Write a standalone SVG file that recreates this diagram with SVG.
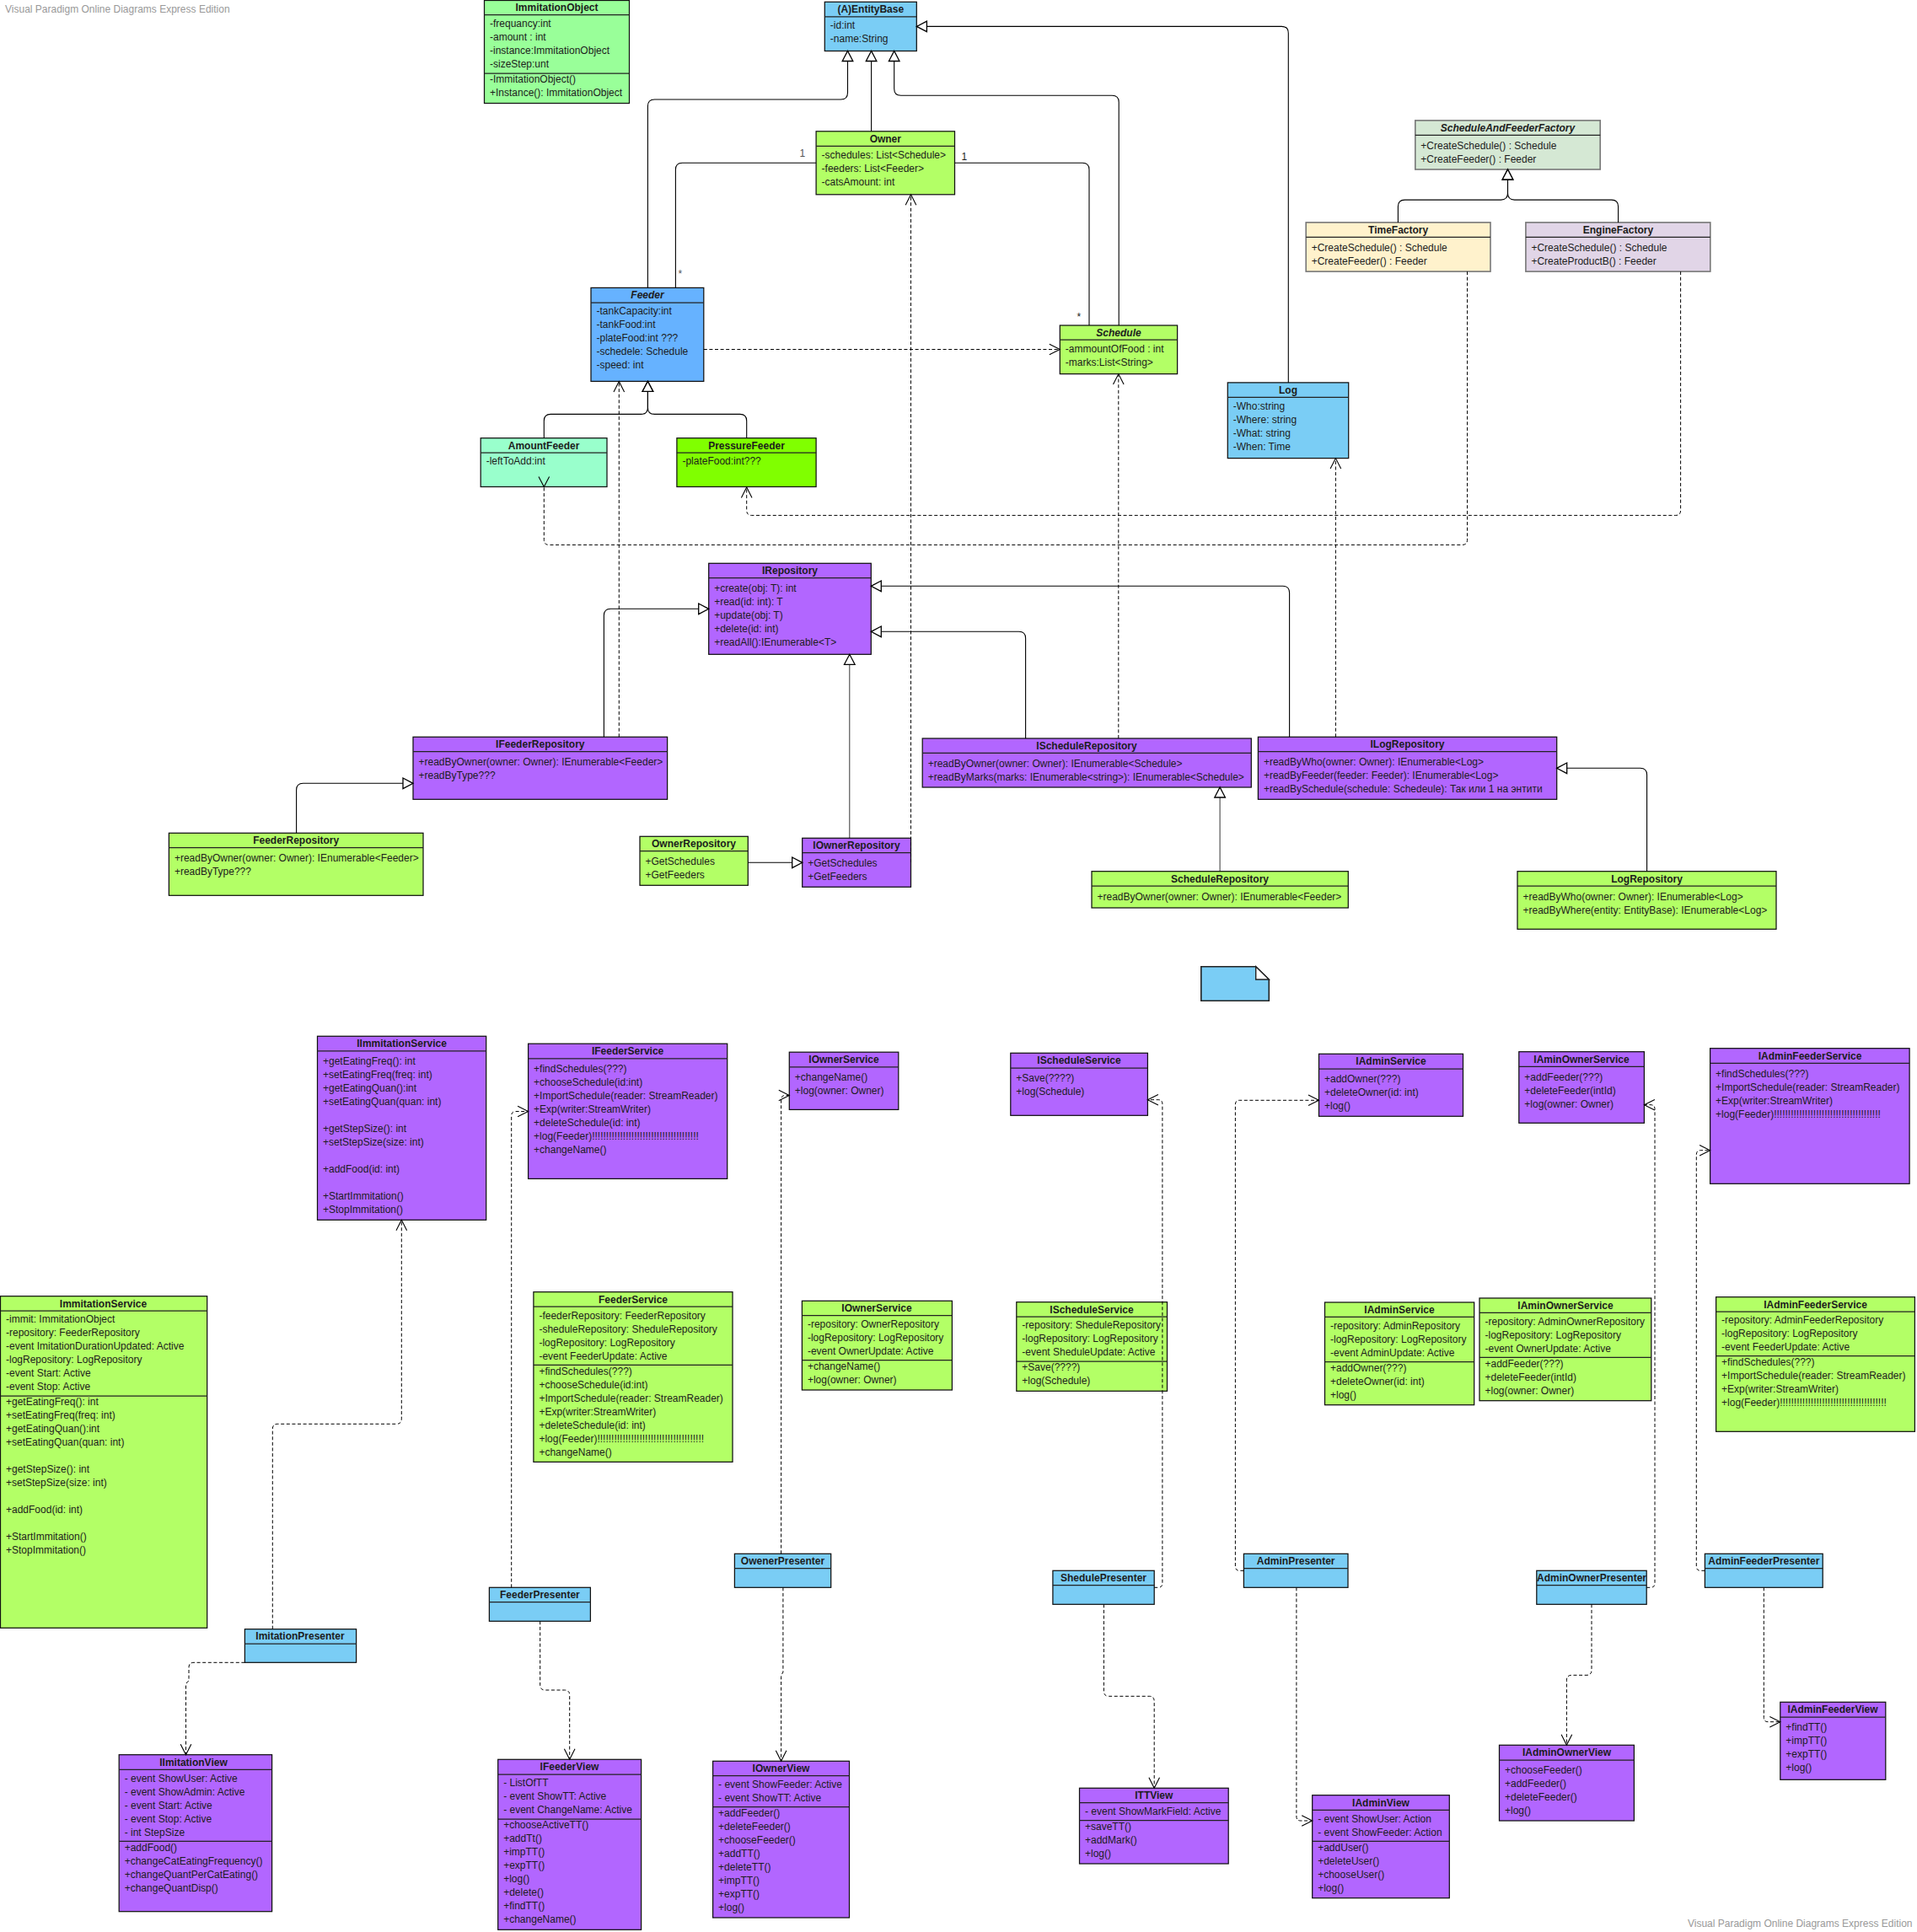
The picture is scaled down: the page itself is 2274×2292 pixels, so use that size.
<svg xmlns="http://www.w3.org/2000/svg" width="2274" height="2292" viewBox="0 0 2274 2292">
<style>
text{font-family:"Liberation Sans",Arial,sans-serif;font-size:12px;fill:#1c1c1c}
text:not(.h){transform:translateX(.5px)}
.h{font-weight:bold;text-anchor:middle}
.i{font-style:italic}
.r{stroke:#111;stroke-width:1.25}
.l{stroke:#222;stroke-width:1.25}
.g{fill:#b3ff66}.p{fill:#b266ff}.b{fill:#7acdf5}
.c,.t,.d{fill:none;stroke:#000}
.c{stroke-width:1.1}.t{stroke-width:.8}.d{stroke-width:1;stroke-dasharray:4 2.6}
.wm{fill:#999;font-size:12px}
.m1{fill:#555}
</style>
<defs>
<marker id="tri" markerUnits="userSpaceOnUse" markerWidth="18" markerHeight="18" refX="13" refY="9" orient="auto" overflow="visible"><path d="M1 2.7L13 9L1 15.3Z" fill="#fff" stroke="#000" stroke-width="1.3"/></marker>
<marker id="open" markerUnits="userSpaceOnUse" markerWidth="18" markerHeight="18" refX="13" refY="9" orient="auto" overflow="visible"><path d="M.5 2.7L13 9L.5 15.3" fill="none" stroke="#000" stroke-width="1.1"/></marker>
</defs>
<rect width="2274" height="2292" fill="#fff"/>
<text class="wm" x="5.5" y="15">Visual Paradigm Online Diagrams Express Edition</text>
<text class="wm" x="2268" y="2286" text-anchor="end">Visual Paradigm Online Diagrams Express Edition</text>

<g id="ImmitationObject"><rect class="r" x="574.5" y=".5" width="172" height="122" fill="#99ff99"/><path class="l" d="M574.5 17.5H746.5M574.5 87H746.5"/><text class="h" x="660.5" y="13">ImmitationObject</text><text y="31.6"><tspan x="580.5">-frequancy:int</tspan><tspan x="580.5" dy="16">-amount : int</tspan><tspan x="580.5" dy="16">-instance:ImmitationObject</tspan><tspan x="580.5" dy="16">-sizeStep:unt</tspan><tspan x="580.5" dy="18.2">-ImmitationObject()</tspan><tspan x="580.5" dy="16">+Instance(): ImmitationObject</tspan></text></g>
<g id="EntityBase"><rect class="r b" x="978.3" y="2.3" width="109" height="58.2"/><path class="l" d="M978.3 19.9H1087.3"/><text class="h" x="1032.8" y="15">(A)EntityBase</text><text y="33.9"><tspan x="984.3">-id:int</tspan><tspan x="984.3" dy="16">-name:String</tspan></text></g>
<g id="Owner"><rect class="r g" x="968.1" y="155.8" width="164.4" height="75"/><path class="l" d="M968.1 173.4H1132.5"/><text class="h" x="1050.3" y="168.5">Owner</text><text y="187.7"><tspan x="974.1">-schedules: List&lt;Schedule&gt;</tspan><tspan x="974.1" dy="16">-feeders: List&lt;Feeder&gt;</tspan><tspan x="974.1" dy="16">-catsAmount: int</tspan></text></g>
<g id="Feeder"><rect class="r" x="701" y="341.4" width="133.8" height="111" fill="#66b2ff"/><path class="l" d="M701 359H834.8"/><text class="h i" x="768" y="354">Feeder</text><text y="372.9"><tspan x="707">-tankCapacity:int</tspan><tspan x="707" dy="16">-tankFood:int</tspan><tspan x="707" dy="16">-plateFood:int ???</tspan><tspan x="707" dy="16">-schedele: Schedule</tspan><tspan x="707" dy="16">-speed: int</tspan></text></g>
<g id="AmountFeeder"><rect class="r" x="570.2" y="519.7" width="149.8" height="57.8" fill="#99ffcc"/><path class="l" d="M570.2 537H720"/><text class="h" x="645.1" y="532.5">AmountFeeder</text><text x="576.2" y="550.9">-leftToAdd:int</text></g>
<g id="PressureFeeder"><rect class="r" x="802.9" y="519.7" width="165.2" height="57.8" fill="#80ff00"/><path class="l" d="M802.9 537H968.1"/><text class="h" x="885.5" y="532.5">PressureFeeder</text><text x="808.9" y="550.9">-plateFood:int???</text></g>
<g id="Schedule"><rect class="r g" x="1257.3" y="386" width="139.3" height="57.6"/><path class="l" d="M1257.3 403.2H1396.6"/><text class="h i" x="1327" y="399">Schedule</text><text y="417.6"><tspan x="1263.3">-ammountOfFood : int</tspan><tspan x="1263.3" dy="16">-marks:List&lt;String&gt;</tspan></text></g>
<g id="Log"><rect class="r b" x="1456.3" y="453.9" width="143.4" height="89.7"/><path class="l" d="M1456.3 471.4H1599.7"/><text class="h" x="1528" y="467">Log</text><text y="485.8"><tspan x="1462.3">-Who:string</tspan><tspan x="1462.3" dy="16">-Where: string</tspan><tspan x="1462.3" dy="16">-What: string</tspan><tspan x="1462.3" dy="16">-When: Time</tspan></text></g>
<g id="ScheduleAndFeederFactory"><rect x="1678.8" y="142.9" width="219.4" height="58.1" fill="#d5e8d4" stroke="#777" stroke-width="1.6"/><path class="l" d="M1678.8 160.4H1898.2"/><text class="h i" x="1788.5" y="156">ScheduleAndFeederFactory</text><text y="176.9"><tspan x="1684.8">+CreateSchedule() : Schedule</tspan><tspan x="1684.8" dy="16">+CreateFeeder() : Feeder</tspan></text></g>
<g id="TimeFactory"><rect x="1549.2" y="263.9" width="218.8" height="58.2" fill="#fff2cc" stroke="#777" stroke-width="1.6"/><path class="l" d="M1549.2 281.4H1768"/><text class="h" x="1658.6" y="277">TimeFactory</text><text y="297.6"><tspan x="1555.2">+CreateSchedule() : Schedule</tspan><tspan x="1555.2" dy="16">+CreateFeeder() : Feeder</tspan></text></g>
<g id="EngineFactory"><rect x="1809.9" y="263.9" width="218.9" height="58.2" fill="#e1d5e7" stroke="#777" stroke-width="1.6"/><path class="l" d="M1809.9 281.4H2028.8"/><text class="h" x="1919.4" y="277">EngineFactory</text><text y="297.6"><tspan x="1815.9">+CreateSchedule() : Schedule</tspan><tspan x="1815.9" dy="16">+CreateProductB() : Feeder</tspan></text></g>
<g id="IRepository"><rect class="r p" x="840.7" y="668.3" width="192.6" height="108"/><path class="l" d="M840.7 685.7H1033.3"/><text class="h" x="937" y="681">IRepository</text><text y="702"><tspan x="846.7">+create(obj: T): int</tspan><tspan x="846.7" dy="16">+read(id: int): T</tspan><tspan x="846.7" dy="16">+update(obj: T)</tspan><tspan x="846.7" dy="16">+delete(id: int)</tspan><tspan x="846.7" dy="16">+readAll():IEnumerable&lt;T&gt;</tspan></text></g>
<g id="IFeederRepository"><rect class="r p" x="490" y="874.3" width="301.6" height="74"/><path class="l" d="M490 891.7H791.6"/><text class="h" x="640.8" y="887">IFeederRepository</text><text y="907.7"><tspan x="496">+readByOwner(owner: Owner): IEnumerable&lt;Feeder&gt;</tspan><tspan x="496" dy="16">+readByType???</tspan></text></g>
<g id="FeederRepository"><rect class="r g" x="200.4" y="988.3" width="301.6" height="74"/><path class="l" d="M200.4 1005.7H502"/><text class="h" x="351.2" y="1001">FeederRepository</text><text y="1021.7"><tspan x="206.4">+readByOwner(owner: Owner): IEnumerable&lt;Feeder&gt;</tspan><tspan x="206.4" dy="16">+readByType???</tspan></text></g>
<g id="OwnerRepository"><rect class="r g" x="759" y="992.3" width="128.3" height="58"/><path class="l" d="M759 1009.7H887.3"/><text class="h" x="823" y="1005">OwnerRepository</text><text y="1025.7"><tspan x="765">+GetSchedules</tspan><tspan x="765" dy="16">+GetFeeders</tspan></text></g>
<g id="IOwnerRepository"><rect class="r p" x="951.7" y="994.3" width="128.8" height="58"/><path class="l" d="M951.7 1011.7H1080.5"/><text class="h" x="1016" y="1007">IOwnerRepository</text><text y="1027.7"><tspan x="957.7">+GetSchedules</tspan><tspan x="957.7" dy="16">+GetFeeders</tspan></text></g>
<g id="IScheduleRepository"><rect class="r p" x="1094.2" y="876" width="390.1" height="58"/><path class="l" d="M1094.2 893.3H1484.3"/><text class="h" x="1289" y="889">IScheduleRepository</text><text y="910"><tspan x="1100.2">+readByOwner(owner: Owner): IEnumerable&lt;Schedule&gt;</tspan><tspan x="1100.2" dy="16">+readByMarks(marks: IEnumerable&lt;string&gt;): IEnumerable&lt;Schedule&gt;</tspan></text></g>
<g id="ILogRepository"><rect class="r p" x="1492.4" y="874.3" width="354.3" height="74"/><path class="l" d="M1492.4 891.7H1846.7"/><text class="h" x="1669.5" y="887">ILogRepository</text><text y="908"><tspan x="1498.4">+readByWho(owner: Owner): IEnumerable&lt;Log&gt;</tspan><tspan x="1498.4" dy="16">+readByFeeder(feeder: Feeder): IEnumerable&lt;Log&gt;</tspan><tspan x="1498.4" dy="16">+readBySchedule(schedule: Schedeule): Так или 1 на энтити</tspan></text></g>
<g id="ScheduleRepository"><rect class="r g" x="1295" y="1033.7" width="304.3" height="43.3"/><path class="l" d="M1295 1051H1599.3"/><text class="h" x="1447" y="1046.5">ScheduleRepository</text><text x="1301" y="1067.7">+readByOwner(owner: Owner): IEnumerable&lt;Feeder&gt;</text></g>
<g id="LogRepository"><rect class="r g" x="1800" y="1033.7" width="307" height="68.6"/><path class="l" d="M1800 1051H2107"/><text class="h" x="1953.5" y="1046.5">LogRepository</text><text y="1067.7"><tspan x="1806">+readByWho(owner: Owner): IEnumerable&lt;Log&gt;</tspan><tspan x="1806" dy="16">+readByWhere(entity: EntityBase): IEnumerable&lt;Log&gt;</tspan></text></g>
<g id="Note"><path class="b" d="M1424.8 1146.7H1489.7L1505.3 1162V1187.3H1424.8Z" stroke="#222" stroke-width="1.6"/><path d="M1489.7 1146.7L1505.3 1162H1489.7Z" fill="#fff" stroke="#222" stroke-width="1.4"/></g>

<g id="IImmitationService"><rect class="r p" x="376.5" y="1229.3" width="200.2" height="218"/><path class="l" d="M376.5 1246.8H576.7"/><text class="h" x="476.6" y="1242">IImmitationService</text><text y="1262.9"><tspan x="382.5">+getEatingFreq(): int</tspan><tspan x="382.5" dy="16">+setEatingFreq(freq: int)</tspan><tspan x="382.5" dy="16">+getEatingQuan():int</tspan><tspan x="382.5" dy="16">+setEatingQuan(quan: int)</tspan><tspan x="382.5" dy="32">+getStepSize(): int</tspan><tspan x="382.5" dy="16">+setStepSize(size: int)</tspan><tspan x="382.5" dy="32">+addFood(id: int)</tspan><tspan x="382.5" dy="32">+StartImmitation()</tspan><tspan x="382.5" dy="16">+StopImmitation()</tspan></text></g>
<g id="IFeederService"><rect class="r p" x="626.6" y="1238.2" width="236.1" height="160.2"/><path class="l" d="M626.6 1255.8H862.7"/><text class="h" x="744.6" y="1251">IFeederService</text><text y="1271.9"><tspan x="632.6">+findSchedules(???)</tspan><tspan x="632.6" dy="16">+chooseSchedule(id:int)</tspan><tspan x="632.6" dy="16">+ImportSchedule(reader: StreamReader)</tspan><tspan x="632.6" dy="16">+Exp(writer:StreamWriter)</tspan><tspan x="632.6" dy="16">+deleteSchedule(id: int)</tspan><tspan x="632.6" dy="16">+log(Feeder)!!!!!!!!!!!!!!!!!!!!!!!!!!!!!!!!!!!!!!</tspan><tspan x="632.6" dy="16">+changeName()</tspan></text></g>
<g id="IOwnerService"><rect class="r p" x="936.3" y="1248.2" width="129.5" height="68.2"/><path class="l" d="M936.3 1265.8H1065.8"/><text class="h" x="1001" y="1261">IOwnerService</text><text y="1282.2"><tspan x="942.3">+changeName()</tspan><tspan x="942.3" dy="16">+log(owner: Owner)</tspan></text></g>
<g id="IScheduleService"><rect class="r p" x="1198.8" y="1249.3" width="162.6" height="74"/><path class="l" d="M1198.8 1267H1361.4"/><text class="h" x="1280" y="1262">IScheduleService</text><text y="1283"><tspan x="1204.8">+Save(????)</tspan><tspan x="1204.8" dy="16">+log(Schedule)</tspan></text></g>
<g id="IAdminService"><rect class="r p" x="1564.5" y="1250.3" width="171" height="74"/><path class="l" d="M1564.5 1268H1735.5"/><text class="h" x="1650" y="1263">IAdminService</text><text y="1284"><tspan x="1570.5">+addOwner(???)</tspan><tspan x="1570.5" dy="16">+deleteOwner(id: int)</tspan><tspan x="1570.5" dy="16">+log()</tspan></text></g>
<g id="IAminOwnerService"><rect class="r p" x="1801.8" y="1247.7" width="148.6" height="84.6"/><path class="l" d="M1801.8 1265.3H1950.4"/><text class="h" x="1876" y="1260.5">IAminOwnerService</text><text y="1282"><tspan x="1807.8">+addFeeder(???)</tspan><tspan x="1807.8" dy="16">+deleteFeeder(intId)</tspan><tspan x="1807.8" dy="16">+log(owner: Owner)</tspan></text></g>
<g id="IAdminFeederService"><rect class="r p" x="2028.6" y="1243.7" width="236.5" height="160.6"/><path class="l" d="M2028.6 1261.3H2265.1"/><text class="h" x="2147" y="1256.5">IAdminFeederService</text><text y="1277.7"><tspan x="2034.6">+findSchedules(???)</tspan><tspan x="2034.6" dy="16">+ImportSchedule(reader: StreamReader)</tspan><tspan x="2034.6" dy="16">+Exp(writer:StreamWriter)</tspan><tspan x="2034.6" dy="16">+log(Feeder)!!!!!!!!!!!!!!!!!!!!!!!!!!!!!!!!!!!!!!</tspan></text></g>

<g id="ImmitationService"><rect class="r g" x=".5" y="1537.7" width="245.2" height="393.6"/><path class="l" d="M.5 1555H245.7M.5 1656H245.7"/><text class="h" x="122.5" y="1550.5">ImmitationService</text><text y="1568.7"><tspan x="6.5">-immit: ImmitationObject</tspan><tspan x="6.5" dy="16">-repository: FeederRepository</tspan><tspan x="6.5" dy="16">-event ImitationDurationUpdated: Active</tspan><tspan x="6.5" dy="16">-logRepository: LogRepository</tspan><tspan x="6.5" dy="16">-event Start: Active</tspan><tspan x="6.5" dy="16">-event Stop: Active</tspan><tspan x="6.5" dy="18">+getEatingFreq(): int</tspan><tspan x="6.5" dy="16">+setEatingFreq(freq: int)</tspan><tspan x="6.5" dy="16">+getEatingQuan():int</tspan><tspan x="6.5" dy="16">+setEatingQuan(quan: int)</tspan><tspan x="6.5" dy="32">+getStepSize(): int</tspan><tspan x="6.5" dy="16">+setStepSize(size: int)</tspan><tspan x="6.5" dy="32">+addFood(id: int)</tspan><tspan x="6.5" dy="32">+StartImmitation()</tspan><tspan x="6.5" dy="16">+StopImmitation()</tspan></text></g>
<g id="FeederService"><rect class="r g" x="632.9" y="1532.7" width="236.1" height="201.7"/><path class="l" d="M632.9 1550.2H869M632.9 1619.4H869"/><text class="h" x="751" y="1545.5">FeederService</text><text y="1564.6"><tspan x="638.9">-feederRepository: FeederRepository</tspan><tspan x="638.9" dy="16">-sheduleRepository: SheduleRepository</tspan><tspan x="638.9" dy="16">-logRepository: LogRepository</tspan><tspan x="638.9" dy="16">-event FeederUpdate: Active</tspan><tspan x="638.9" dy="18">+findSchedules(???)</tspan><tspan x="638.9" dy="16">+chooseSchedule(id:int)</tspan><tspan x="638.9" dy="16">+ImportSchedule(reader: StreamReader)</tspan><tspan x="638.9" dy="16">+Exp(writer:StreamWriter)</tspan><tspan x="638.9" dy="16">+deleteSchedule(id: int)</tspan><tspan x="638.9" dy="16">+log(Feeder)!!!!!!!!!!!!!!!!!!!!!!!!!!!!!!!!!!!!!!</tspan><tspan x="638.9" dy="16">+changeName()</tspan></text></g>
<g id="OwnerService"><rect class="r g" x="951.4" y="1543.3" width="178" height="105.7"/><path class="l" d="M951.4 1560.5H1129.4M951.4 1613.6H1129.4"/><text class="h" x="1040" y="1556">IOwnerService</text><text y="1574.9"><tspan x="957.4">-repository: OwnerRepository</tspan><tspan x="957.4" dy="16">-logRepository: LogRepository</tspan><tspan x="957.4" dy="16">-event OwnerUpdate: Active</tspan><tspan x="957.4" dy="18">+changeName()</tspan><tspan x="957.4" dy="16">+log(owner: Owner)</tspan></text></g>
<g id="ScheduleService"><rect class="r g" x="1205.8" y="1544.7" width="178.7" height="105.6"/><path class="l" d="M1205.8 1562H1384.5M1205.8 1615H1384.5"/><text class="h" x="1295" y="1557.5">IScheduleService</text><text y="1576"><tspan x="1211.8">-repository: SheduleRepository</tspan><tspan x="1211.8" dy="16">-logRepository: LogRepository</tspan><tspan x="1211.8" dy="16">-event SheduleUpdate: Active</tspan><tspan x="1211.8" dy="18">+Save(????)</tspan><tspan x="1211.8" dy="16">+log(Schedule)</tspan></text></g>
<g id="AdminService"><rect class="r g" x="1571.5" y="1545" width="177.2" height="121.7"/><path class="l" d="M1571.5 1562.3H1748.7M1571.5 1615.7H1748.7"/><text class="h" x="1660" y="1558">IAdminService</text><text y="1577"><tspan x="1577.5">-repository: AdminRepository</tspan><tspan x="1577.5" dy="16">-logRepository: LogRepository</tspan><tspan x="1577.5" dy="16">-event AdminUpdate: Active</tspan><tspan x="1577.5" dy="18">+addOwner(???)</tspan><tspan x="1577.5" dy="16">+deleteOwner(id: int)</tspan><tspan x="1577.5" dy="16">+log()</tspan></text></g>
<g id="AminOwnerService"><rect class="r g" x="1755" y="1540" width="203.8" height="121.7"/><path class="l" d="M1755 1557.3H1958.8M1755 1610.3H1958.8"/><text class="h" x="1857" y="1553">IAminOwnerService</text><text y="1572"><tspan x="1761">-repository: AdminOwnerRepository</tspan><tspan x="1761" dy="16">-logRepository: LogRepository</tspan><tspan x="1761" dy="16">-event OwnerUpdate: Active</tspan><tspan x="1761" dy="18">+addFeeder(???)</tspan><tspan x="1761" dy="16">+deleteFeeder(intId)</tspan><tspan x="1761" dy="16">+log(owner: Owner)</tspan></text></g>
<g id="AdminFeederService"><rect class="r g" x="2035.6" y="1538.7" width="235.8" height="159.6"/><path class="l" d="M2035.6 1556H2271.4M2035.6 1608.7H2271.4"/><text class="h" x="2153.5" y="1551.5">IAdminFeederService</text><text y="1570"><tspan x="2041.6">-repository: AdminFeederRepository</tspan><tspan x="2041.6" dy="16">-logRepository: LogRepository</tspan><tspan x="2041.6" dy="16">-event FeederUpdate: Active</tspan><tspan x="2041.6" dy="18">+findSchedules(???)</tspan><tspan x="2041.6" dy="16">+ImportSchedule(reader: StreamReader)</tspan><tspan x="2041.6" dy="16">+Exp(writer:StreamWriter)</tspan><tspan x="2041.6" dy="16">+log(Feeder)!!!!!!!!!!!!!!!!!!!!!!!!!!!!!!!!!!!!!!</tspan></text></g>

<g id="ImitationPresenter"><rect class="r b" x="290.4" y="1932.7" width="132.2" height="39.6"/><path class="l" d="M290.4 1950H422.6"/><text class="h" x="356" y="1945">ImitationPresenter</text></g>
<g id="FeederPresenter"><rect class="r b" x="580.4" y="1883.3" width="120" height="40"/><path class="l" d="M580.4 1900.7H700.4"/><text class="h" x="640.4" y="1896">FeederPresenter</text></g>
<g id="OwenerPresenter"><rect class="r b" x="871.4" y="1843.3" width="114.3" height="40"/><path class="l" d="M871.4 1860.7H985.7"/><text class="h" x="928.5" y="1856">OwenerPresenter</text></g>
<g id="ShedulePresenter"><rect class="r b" x="1248.9" y="1863.3" width="120.3" height="40"/><path class="l" d="M1248.9 1880.7H1369.2"/><text class="h" x="1309" y="1876">ShedulePresenter</text></g>
<g id="AdminPresenter"><rect class="r b" x="1475.4" y="1843.3" width="123.6" height="40"/><path class="l" d="M1475.4 1860.7H1599"/><text class="h" x="1537.2" y="1856">AdminPresenter</text></g>
<g id="AdminOwnerPresenter"><rect class="r b" x="1822.8" y="1863.3" width="130.4" height="40"/><path class="l" d="M1822.8 1880.7H1953.2"/><text class="h" x="1888" y="1876">AdminOwnerPresenter</text></g>
<g id="AdminFeederPresenter"><rect class="r b" x="2022.4" y="1843.3" width="139.8" height="40"/><path class="l" d="M2022.4 1860.7H2162.2"/><text class="h" x="2092.3" y="1856">AdminFeederPresenter</text></g>

<g id="IImitationView"><rect class="r p" x="141.2" y="2081.7" width="181.4" height="186"/><path class="l" d="M141.2 2099.3H322.6M141.2 2184.3H322.6"/><text class="h" x="229.5" y="2094.5">IImitationView</text><text y="2113.7"><tspan x="147.2">- event ShowUser: Active</tspan><tspan x="147.2" dy="16">- event ShowAdmin: Active</tspan><tspan x="147.2" dy="16">- event Start: Active</tspan><tspan x="147.2" dy="16">- event Stop: Active</tspan><tspan x="147.2" dy="16">- int StepSize</tspan><tspan x="147.2" dy="18.3">+addFood()</tspan><tspan x="147.2" dy="16">+changeCatEatingFrequency()</tspan><tspan x="147.2" dy="16">+changeQuantPerCatEating()</tspan><tspan x="147.2" dy="16">+changeQuantDisp()</tspan></text></g>
<g id="IFeederView"><rect class="r p" x="590.7" y="2087.3" width="169.9" height="202"/><path class="l" d="M590.7 2105H760.6M590.7 2158H760.6"/><text class="h" x="675.5" y="2100">IFeederView</text><text y="2119"><tspan x="596.7">- ListOfTT</tspan><tspan x="596.7" dy="16">- event ShowTT: Active</tspan><tspan x="596.7" dy="16">- event ChangeName: Active</tspan><tspan x="596.7" dy="18">+chooseActiveTT()</tspan><tspan x="596.7" dy="16">+addTt()</tspan><tspan x="596.7" dy="16">+impTT()</tspan><tspan x="596.7" dy="16">+expTT()</tspan><tspan x="596.7" dy="16">+log()</tspan><tspan x="596.7" dy="16">+delete()</tspan><tspan x="596.7" dy="16">+findTT()</tspan><tspan x="596.7" dy="16">+changeName()</tspan></text></g>
<g id="IOwnerView"><rect class="r p" x="845.6" y="2089.3" width="161.9" height="185.7"/><path class="l" d="M845.6 2106.7H1007.5M845.6 2143.7H1007.5"/><text class="h" x="926.5" y="2102">IOwnerView</text><text y="2120.7"><tspan x="851.6">- event ShowFeeder: Active</tspan><tspan x="851.6" dy="16">- event ShowTT: Active</tspan><tspan x="851.6" dy="18.3">+addFeeder()</tspan><tspan x="851.6" dy="16">+deleteFeeder()</tspan><tspan x="851.6" dy="16">+chooseFeeder()</tspan><tspan x="851.6" dy="16">+addTT()</tspan><tspan x="851.6" dy="16">+deleteTT()</tspan><tspan x="851.6" dy="16">+impTT()</tspan><tspan x="851.6" dy="16">+expTT()</tspan><tspan x="851.6" dy="16">+log()</tspan></text></g>
<g id="ITTView"><rect class="r p" x="1280.5" y="2121.3" width="176.7" height="89.7"/><path class="l" d="M1280.5 2138.7H1457.2M1280.5 2159.7H1457.2"/><text class="h" x="1368.8" y="2134">ITTView</text><text y="2153"><tspan x="1286.5">- event ShowMarkField: Active</tspan><tspan x="1286.5" dy="18">+saveTT()</tspan><tspan x="1286.5" dy="16">+addMark()</tspan><tspan x="1286.5" dy="16">+log()</tspan></text></g>
<g id="IAdminView"><rect class="r p" x="1556.7" y="2129.7" width="162.6" height="122"/><path class="l" d="M1556.7 2147.3H1719.3M1556.7 2184.3H1719.3"/><text class="h" x="1638" y="2142.5">IAdminView</text><text y="2162"><tspan x="1562.7">- event ShowUser: Action</tspan><tspan x="1562.7" dy="16">- event ShowFeeder: Action</tspan><tspan x="1562.7" dy="18">+addUser()</tspan><tspan x="1562.7" dy="16">+deleteUser()</tspan><tspan x="1562.7" dy="16">+chooseUser()</tspan><tspan x="1562.7" dy="16">+log()</tspan></text></g>
<g id="IAdminOwnerView"><rect class="r p" x="1778.5" y="2070.3" width="159.9" height="89.7"/><path class="l" d="M1778.5 2088H1938.4"/><text class="h" x="1858.5" y="2083">IAdminOwnerView</text><text y="2104"><tspan x="1784.5">+chooseFeeder()</tspan><tspan x="1784.5" dy="16">+addFeeder()</tspan><tspan x="1784.5" dy="16">+deleteFeeder()</tspan><tspan x="1784.5" dy="16">+log()</tspan></text></g>
<g id="IAdminFeederView"><rect class="r p" x="2111.8" y="2019.3" width="125" height="92"/><path class="l" d="M2111.8 2037H2236.8"/><text class="h" x="2174" y="2032">IAdminFeederView</text><text y="2053"><tspan x="2117.8">+findTT()</tspan><tspan x="2117.8" dy="16">+impTT()</tspan><tspan x="2117.8" dy="16">+expTT()</tspan><tspan x="2117.8" dy="16">+log()</tspan></text></g>

<g id="connectors">
<path class="c" marker-end="url(#tri)" d="M768.4 341.4V126Q768.4 118 776.4 118H997.5Q1005.5 118 1005.5 110V60.5"/>
<path class="c" marker-end="url(#tri)" d="M1033.6 155.8V60.5"/>
<path class="c" marker-end="url(#tri)" d="M1327.2 386V121.3Q1327.2 113.3 1319.2 113.3H1068.7Q1060.7 113.3 1060.7 105.3V60.5"/>
<path class="c" marker-end="url(#tri)" d="M1528.3 454V39.4Q1528.3 31.4 1520.3 31.4H1087.4"/>
<path class="c" d="M968.1 193.3H809.4Q801.4 193.3 801.4 201.3V341.4"/>
<path class="c" d="M1132.5 193.3H1284Q1292 193.3 1292 201.3V386"/>
<path class="d" marker-end="url(#open)" d="M834.8 414.5H1257.3"/>
<path class="c" marker-end="url(#tri)" d="M645.3 519.7V499.4Q645.3 491.4 653.3 491.4H760.4Q768.4 491.4 768.4 483.4V452.4"/>
<path class="c" marker-end="url(#tri)" d="M885.7 519.7V499.4Q885.7 491.4 877.7 491.4H776.4Q768.4 491.4 768.4 483.4V452.4"/>
<path class="c" marker-end="url(#tri)" d="M1658.4 263.9V245.1Q1658.4 237.1 1666.4 237.1H1780.5Q1788.5 237.1 1788.5 229.1V201"/>
<path class="c" marker-end="url(#tri)" d="M1919.6 263.9V245.1Q1919.6 237.1 1911.6 237.1H1796.5Q1788.5 237.1 1788.5 229.1V201"/>
<path class="d" d="M1740.5 322.1V640.4Q1740.5 646.4 1734.5 646.4H651.3Q645.3 646.4 645.3 640.4V577.5"/>
<path d="M639 565.5L645.3 577.5L651.6 565.5" fill="none" stroke="#000" stroke-width="1.1"/>
<path class="d" marker-end="url(#open)" d="M1993.6 322.1V605.4Q1993.6 611.4 1987.6 611.4H891.7Q885.7 611.4 885.7 605.4V578"/>
<path class="d" marker-end="url(#open)" d="M734.3 874.3V452.4"/>
<path class="d" marker-end="url(#open)" d="M1080.5 1023V230.8"/>
<path class="d" marker-end="url(#open)" d="M1326.8 876V443.6"/>
<path class="d" marker-end="url(#open)" d="M1584.4 874.3V543.6"/>
<path class="c" marker-end="url(#tri)" d="M716.4 874.3V730.3Q716.4 722.3 724.4 722.3H840.7"/>
<path class="c" marker-end="url(#tri)" d="M351.6 988.3V937.3Q351.6 929.3 359.6 929.3H490"/>
<path class="c" marker-end="url(#tri)" d="M887.3 1023.3H951.7"/>
<path class="t" marker-end="url(#tri)" d="M1007.8 994.3V776.3"/>
<path class="c" marker-end="url(#tri)" d="M1529.6 874.3V703.3Q1529.6 695.3 1521.6 695.3H1033.3"/>
<path class="c" marker-end="url(#tri)" d="M1216.6 876V757.3Q1216.6 749.3 1208.6 749.3H1033.3"/>
<path class="t" marker-end="url(#tri)" d="M1447.1 1033.7V934"/>
<path class="c" marker-end="url(#tri)" d="M1953.6 1033.7V919.3Q1953.6 911.3 1945.6 911.3H1846.7"/>
<path class="d" marker-end="url(#open)" d="M323.3 1932.7V1695.3Q323.3 1689.3 329.3 1689.3H470.3Q476.3 1689.3 476.3 1683.3V1447.3"/>
<path class="d" marker-end="url(#open)" d="M290.4 1972.3H230Q224 1972.3 224 1978.3V1994Q220.5 1996 220.5 2000V2081.7"/>
<path class="d" marker-end="url(#open)" d="M606.7 1883.3V1323.5Q606.7 1318.5 611.7 1318.5H626.6"/>
<path class="d" marker-end="url(#open)" d="M640.7 1923.3V1999Q640.7 2005 646.7 2005H669.7Q675.7 2005 675.7 2011V2087.3"/>
<path class="d" marker-end="url(#open)" d="M926.6 1843.3V1304.5Q926.6 1299.5 931.6 1299.5H936.3"/>
<path class="d" marker-end="url(#open)" d="M928.9 1883.3V1984Q926.6 1986.7 926.6 1990V2089.3"/>
<path class="d" marker-end="url(#open)" d="M1369.2 1883.3H1373.9Q1378.9 1883.3 1378.9 1878.3V1309.7Q1378.9 1304.7 1373.9 1304.7H1361.4"/>
<path class="d" marker-end="url(#open)" d="M1309.4 1903.3V2006.3Q1309.4 2012.3 1315.4 2012.3H1363.2Q1369.2 2012.3 1369.2 2018.3V2121.3"/>
<path class="d" marker-end="url(#open)" d="M1475.4 1863.3H1470.4Q1465.4 1863.3 1465.4 1858.3V1310.3Q1465.4 1305.3 1470.4 1305.3H1564.5"/>
<path class="d" marker-end="url(#open)" d="M1537.9 1883.3V2155Q1537.9 2160 1542.9 2160H1556.7"/>
<path class="d" marker-end="url(#open)" d="M1953.2 1883.3H1958Q1963 1883.3 1963 1878.3V1315.7Q1963 1310.7 1958 1310.7H1950.4"/>
<path class="d" marker-end="url(#open)" d="M1888 1903.3V1981.3Q1888 1987.3 1882 1987.3H1864.4Q1858.4 1987.3 1858.4 1993.3V2070.3"/>
<path class="d" marker-end="url(#open)" d="M2022.4 1863.3H2017.3Q2012.3 1863.3 2012.3 1858.3V1369.7Q2012.3 1364.7 2017.3 1364.7H2028.6"/>
<path class="d" marker-end="url(#open)" d="M2092.3 1883.3V2037.7Q2092.3 2042.7 2097.3 2042.7H2111.8"/>
<text class="m1" x="948" y="186">1</text>
<text class="m1" x="804" y="329">*</text>
<text x="1140" y="190">1</text>
<text x="1277" y="380">*</text>
</g>
</svg>
